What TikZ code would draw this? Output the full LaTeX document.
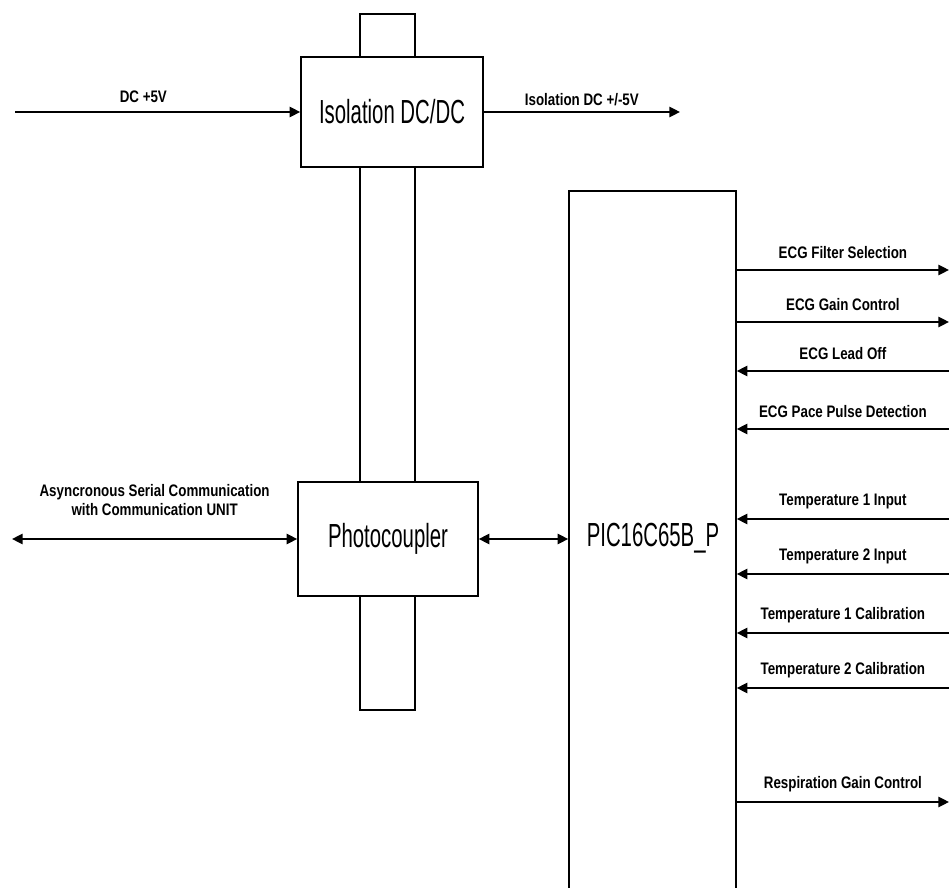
\documentclass[tikz,border=0pt]{standalone}
\usepackage{fontspec}
\setmainfont{Liberation Sans}
\newfontfamily\blockfont[FakeStretch=0.61]{Liberation Sans}
\newfontfamily\signalfont[FakeStretch=0.8]{Liberation Sans}
\usetikzlibrary{arrows.meta, positioning}

\begin{document}
\begin{tikzpicture}[
    x=0.02cm, y=-0.02cm,
    >={Triangle[length=6pt,width=5.8pt]},
    block/.style={draw, line width=0.9pt, fill=white,
        font=\blockfont\fontsize{19}{22}\selectfont},
    blocktext/.style={font=\blockfont\fontsize{19}{22}\selectfont},
    signal/.style={line width=1.15pt},
    siglabel/.style={font=\signalfont\bfseries\fontsize{9.5}{11}\selectfont, align=center}
]
    \useasboundingbox (0,0) rectangle (951,888);

    % Isolation barrier strip behind both couplers
    \draw[line width=0.9pt] (360,14) rectangle (415,710);

    % Isolated DC/DC converter
    \node[block, minimum width=3.64cm, minimum height=2.2cm] (iso) at (392,112) {Isolation DC/DC};

    % Photocoupler
    \node[block, minimum width=3.6cm, minimum height=2.28cm] (photo) at (388,539) {Photocoupler};

    % Microcontroller (runs off the bottom)
    \node[draw, line width=0.9pt, minimum width=3.34cm, minimum height=14.58cm] (pic) at (652.5,555.5) {};
    \node[blocktext] (piclabel) at (653,538) {PIC16C65B\_P};

    % Supply in / out
    \coordinate (dcin) at (15,112);
    \coordinate (isoout) at (680,112);
    \draw[signal, ->] (dcin) -- node[siglabel, pos=0.45, yshift=8.5pt] {DC +5V} (iso.west);
    \draw[signal, ->] (iso.east) -- node[siglabel, yshift=7pt] {Isolation DC +/-5V} (isoout);

    % Serial link
    \coordinate (comm) at (12,539);
    \draw[signal, <->] (comm) -- node[siglabel, yshift=22pt] {Asyncronous Serial Communication\\with Communication UNIT} (photo.west);
    \draw[signal, <->] (photo.east) -- (pic.west |- photo.east);

    % Signals on the right side of the PIC
    \foreach \y/\txt/\dir in {270/ECG Filter Selection/->, 322/ECG Gain Control/->,
        371/ECG Lead Off/<-, 429/ECG Pace Pulse Detection/<-,
        519/Temperature 1 Input/<-, 574/Temperature 2 Input/<-,
        633/Temperature 1 Calibration/<-, 688/Temperature 2 Calibration/<-,
        802/Respiration Gain Control/->}
    {
        \coordinate (ext) at (949,\y);
        \draw[signal, \dir] (pic.east |- ext) -- node[siglabel, yshift=10pt] {\txt} (ext);
    }

\end{tikzpicture}
\end{document}
